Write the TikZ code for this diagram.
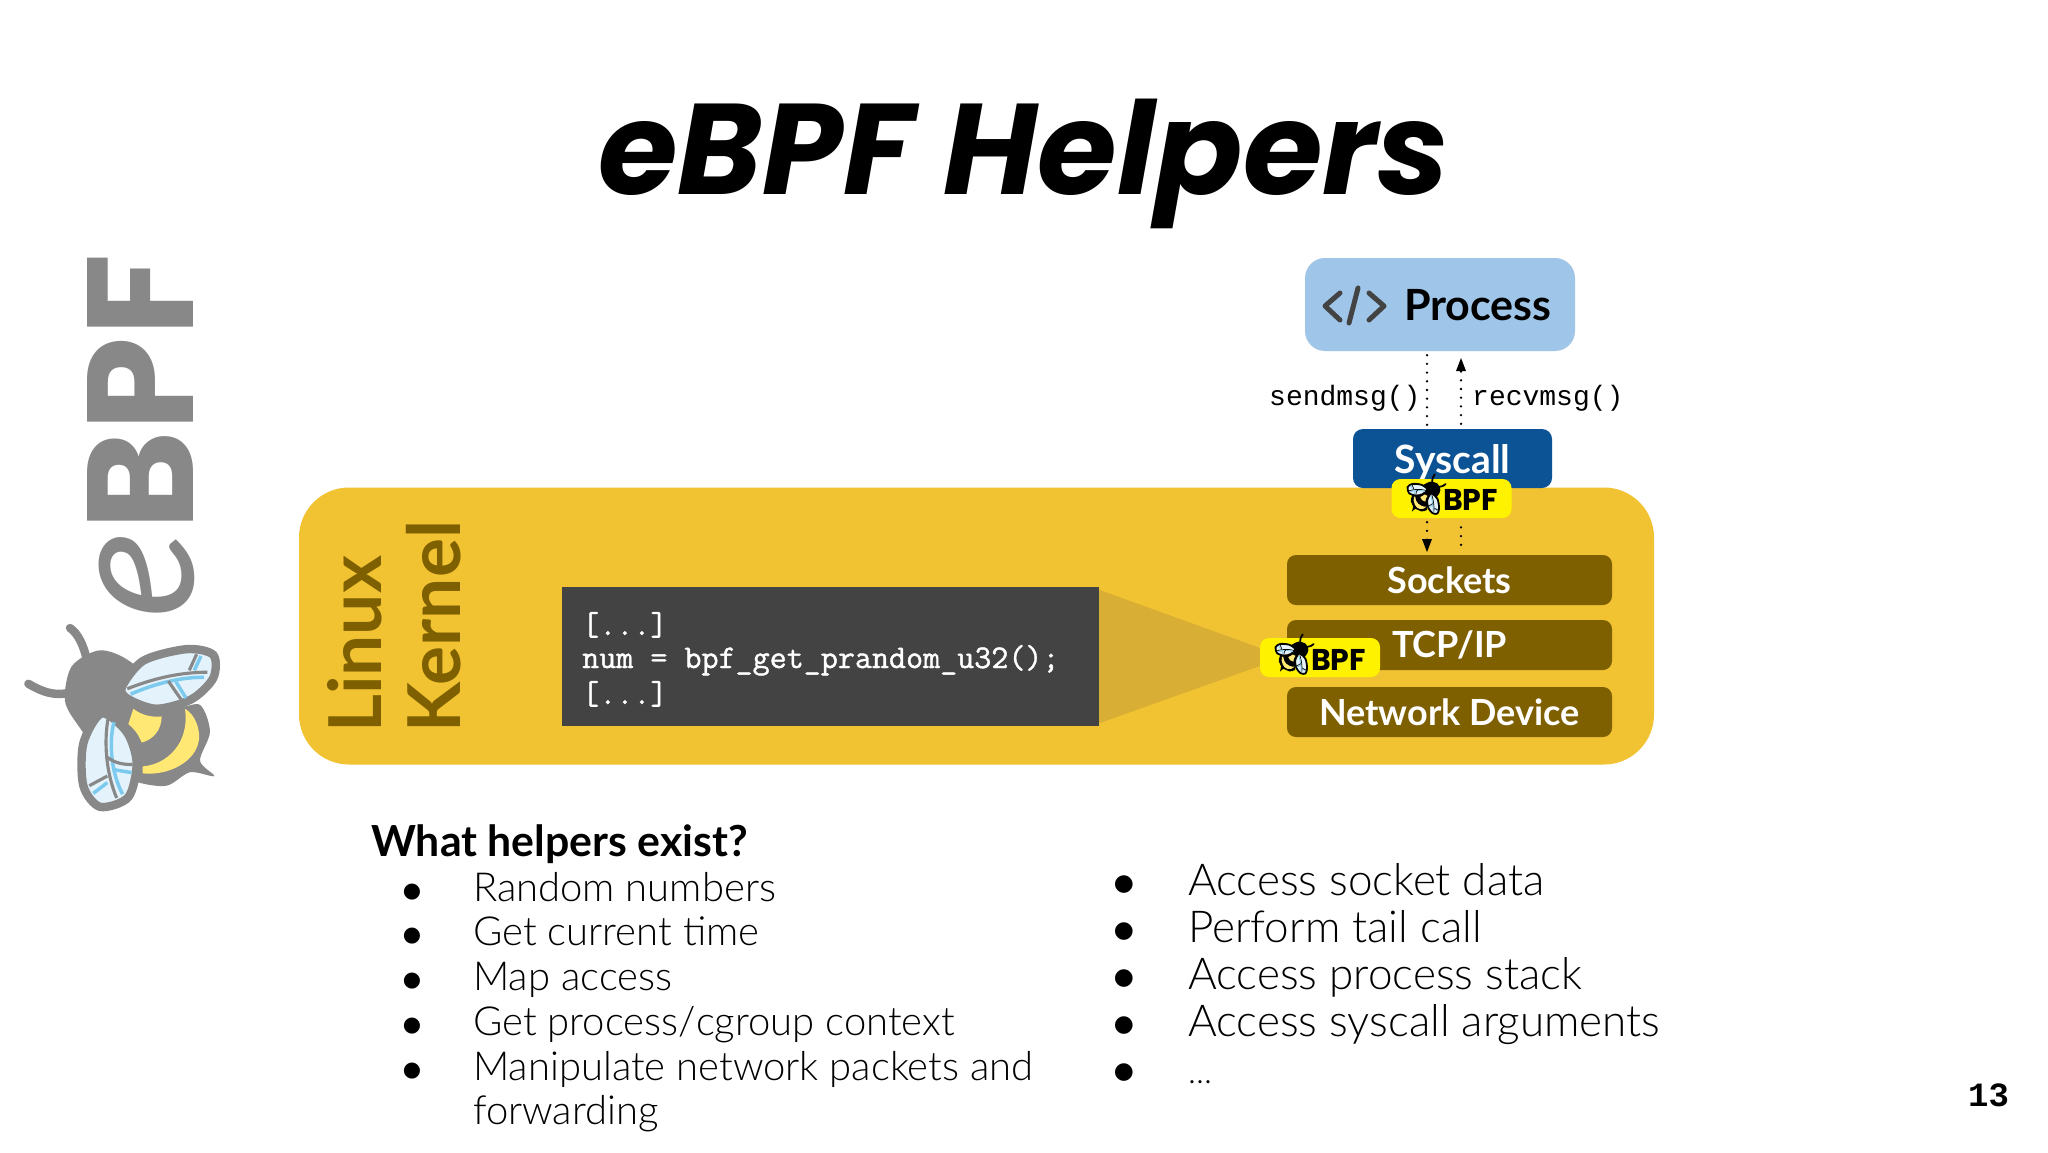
\documentclass[tikz,border=0pt]{standalone}
\usepackage{fontspec}
\setmainfont{Lato}
\newfontfamily\monof{Liberation Mono}
\newfontfamily\bulf{DejaVu Sans}
\newfontfamily\popf{Poppins}
\newfontfamily\lightf{Lato Light}
\newfontfamily\codef{Latin Modern Mono}[FakeBold=1.2]
\usetikzlibrary{arrows.meta,calc}
\newcommand{\fsz}[1]{\fontsize{#1pt}{#1pt}\selectfont}
\definecolor{gold}{HTML}{F1C232}
\definecolor{cone}{HTML}{D9AE35}
\definecolor{brownbox}{HTML}{7F6000}
\definecolor{procblue}{HTML}{9FC5E8}
\definecolor{sysblue}{HTML}{0B5394}
\definecolor{codegray}{HTML}{434343}
\definecolor{logogray}{HTML}{888888}
\definecolor{beeyellow}{HTML}{FFE873}
\definecolor{winglight}{HTML}{E3F2FB}
\definecolor{wingblue}{HTML}{7CCBEE}
% #1 outline colour, #2 line width factor
\newcommand{\beelogo}[2]{%
  \fill[#1] plot[smooth cycle] coordinates {(300,1098)(395,1130)(520,1240)(600,1240)(630,1310)(600,1385)(643,1425)(570,1415)(500,1450)(410,1440)(330,1400)(240,1300)(195,1230)(215,1140)};
  \draw[#1,line width=24*#2,line cap=round] (260,1120) .. controls (250,1085) and (235,1055) .. (210,1040);
  \draw[#1,line width=24*#2,line cap=round] (210,1208) .. controls (160,1218) and (125,1205) .. (85,1185);
  \fill[beeyellow] (400,1250) .. controls (430,1270) and (460,1272) .. (485,1270) .. controls (485,1305) and (460,1330) .. (425,1338) .. controls (415,1315) and (400,1300) .. (385,1290) -- cycle;
  \fill[beeyellow] (555,1250) .. controls (585,1265) and (600,1300) .. (597,1330) .. controls (590,1385) and (510,1425) .. (428,1418) -- (428,1400) .. controls (500,1395) and (570,1340) .. (555,1250) -- cycle;
  \filldraw[draw=#1,fill=winglight,line width=24*#2] plot[smooth cycle] coordinates {(365,1195)(430,1125)(560,1095)(640,1110)(640,1170)(575,1225)(470,1250)(385,1225)};
  \draw[wingblue,line width=10*#2] (392,1212) .. controls (450,1190) and (530,1168) .. (612,1168);
  \draw[wingblue,line width=10*#2] (603,1113) -- (583,1150);
  \draw[wingblue,line width=10*#2] (528,1180) -- (558,1222);
  \draw[#1,line width=9*#2] (382,1198) .. controls (450,1175) and (530,1155) .. (622,1155);
  \draw[#1,line width=9*#2] (590,1108) -- (568,1150);
  \draw[#1,line width=9*#2] (505,1178) -- (545,1228);
  \filldraw[draw=#1,fill=winglight,line width=24*#2] plot[smooth cycle] coordinates {(305,1262)(250,1340)(250,1450)(300,1505)(385,1480)(410,1390)(380,1310)};
  \draw[wingblue,line width=10*#2] (342,1285) .. controls (325,1340) and (335,1420) .. (368,1472);
  \draw[wingblue,line width=10*#2] (338,1408) -- (395,1416);
  \draw[wingblue,line width=10*#2] (280,1470) -- (322,1442);
  \draw[#1,line width=9*#2] (325,1272) .. controls (310,1340) and (320,1420) .. (350,1482);
  \draw[#1,line width=9*#2] (320,1375) .. controls (345,1392) and (370,1395) .. (398,1395);
  \draw[#1,line width=9*#2] (268,1450) -- (322,1425);
}
\tikzset{
  box/.style={inner sep=0pt,rounded corners=#1},
  layer/.style={box=9pt,fill=brownbox,minimum width=325pt,minimum height=50pt,text=white,font=\fsz{36}\bfseries},
  badge/.style={box=9pt,fill=yellow,minimum width=120pt,minimum height=39pt},
  bpftext/.style={inner sep=0pt,anchor=base west,font=\popf\fsz{30}\bfseries},
  monotext/.style={inner sep=0pt,anchor=base west,font=\monof\fsz{28}},
  codetext/.style={inner sep=0pt,anchor=base west,text=white,font=\codef\fsz{33.1}},
  call/.style={line width=2.6pt,line cap=round,dash pattern=on 0pt off 8.7pt,black},
  itemtext/.style={inner sep=0pt,anchor=base west,font=\lightf\fsz{#1}},
  bull/.style={inner sep=0pt,anchor=base,font=\bulf\fsz{#1}},
}
\begin{document}
\begin{tikzpicture}[x=1pt,y=-1pt]
\useasboundingbox (0,0) rectangle (2048,1152);
\fill[white] (0,0) rectangle (2048,1152);

% title
\node[inner sep=0pt,anchor=base] (title) at (1024,194) {\popf\fsz{129}\bfseries\itshape eBPF Helpers};

% side logo
\node[inner sep=0pt,anchor=base east,rotate=90,text=logogray] (ebpf) at (193,254) {{\itshape\fsz{184}e}{\popf\fsz{151}\bfseries BPF}};
\begin{scope}[shift={(0,228)},xscale=0.3333,yscale=0.3846]
  \beelogo{logogray}{0.35}
\end{scope}

% kernel
\node[box=50pt,fill=gold,minimum width=1355pt,minimum height=277pt] (kernel) at (976.5,626) {};
\node[inner sep=0pt,rotate=90,anchor=south west,align=left,text=brownbox,font=\fsz{73}\bfseries] (kname) at (461,733) {Linux\\[6pt]Kernel};

% cone and code
\node[inner sep=0pt,fill=codegray,minimum width=537pt,minimum height=139pt] (code) at (830.5,656.5) {};
\coordinate (conetip) at (1285,657);
\fill[cone] ($(code.north east)+(0,3)$) -- (conetip) -- ($(code.south east)+(0,-3)$) -- cycle;
\node[codetext] (c1) at (582,635) {[...]};
\node[codetext] (c2) at (582,668) {num = bpf\_get\_prandom\_u32();};
\node[codetext] (c3) at (582,704) {[...]};

% layers
\node[layer] (sockets) at (1449.5,580) {Sockets};
\node[layer,text depth=2pt] (tcp) at (1449.5,645) {TCP/IP};
\node[layer] (net) at (1449.5,712) {Network Device};

% process
\node[box=20pt,fill=procblue,minimum width=270pt,minimum height=93pt] (proc) at (1440,304.5) {};
\node[inner sep=0pt,anchor=base west,font=\fsz{43}\bfseries] (proctext) at (1404,320) {Process};
\draw[codegray,line width=5pt,line cap=round,line join=round] (1340,293) -- (1325,306) -- (1340,320);
\draw[codegray,line width=5pt,line cap=round] (1358,288) -- (1349,323);
\draw[codegray,line width=5pt,line cap=round,line join=round] (1369,293) -- (1384,306) -- (1369,320);

% syscall
\node[box=10pt,fill=sysblue,minimum width=199pt,minimum height=59pt,text=white,font=\fsz{39}\bfseries,text depth=0pt,text height=29pt] (sys) at (1452.5,458.5) {Syscall};

% dotted calls
\coordinate (lx) at (1427,0);
\coordinate (rx) at (1461,0);
\node[monotext] (send) at (1269,405) {sendmsg()};
\node[monotext] (recv) at (1472,405) {recvmsg()};
\draw[call] ($(proc.south -| lx)+(0,4)$) -- ($(sys.north -| lx)+(0,-4)$);
\draw[call] ($(sys.north -| rx)+(0,-5)$) -- ($(proc.south -| rx)+(0,20)$);
\fill (1461,358) -- (1466,371) -- (1456,371) -- cycle;

% badges
\node[badge] (b1) at (1451.5,498.5) {};
\node[bpftext] (b1t) at (1443,510) {BPF};
\node[badge] (b2) at (1320,657.5) {};
\node[bpftext] (b2t) at (1311,670) {BPF};
\begin{scope}[shift={(1425,497)},rotate=-95,xscale=0.07,yscale=0.081,shift={(-420,-1280)}]
  \beelogo{black}{0.075}
\end{scope}
\begin{scope}[shift={(1293,657)},rotate=-95,xscale=0.07,yscale=0.081,shift={(-420,-1280)}]
  \beelogo{black}{0.075}
\end{scope}

% below syscall
\draw[call] ($(b1.south -| lx)+(0,4)$) -- ($(sockets.north -| lx)+(0,-14)$);
\fill (1427,552) -- (1432,539) -- (1422,539) -- cycle;
\draw[call] ($(sockets.north -| rx)+(0,-10)$) -- ($(b1.south -| rx)+(0,4)$);

% lists
\node[inner sep=0pt,anchor=base west,font=\fsz{42.8}\bfseries] (head) at (371,856) {What helpers exist?};
\foreach \t/\y [count=\i] in {Random numbers/901,Get current time/945,Map access/990,Get process\slash cgroup context/1035,Manipulate network packets and/1080}{
  \node[bull=21] (lb\i) at (412,\y-4) {●};
  \node[itemtext=40] (l\i) at (473,\y) {\t};
}
\node[itemtext=40] (l6) at (473,1124) {forwarding};
\foreach \y [count=\i] in {895,942,989,1036,1083}{
  \node[bull=23] (rb\i) at (1124,\y-5) {●};
}
\node[itemtext=44] (r1) at (1188,895) {Access socket data};
\node[itemtext=44] (r2) at (1188,942) {Perform tail call};
\node[itemtext=44] (r3) at (1188,989) {Access process stack};
\node[itemtext=44] (r4) at (1188,1036) {Access syscall arguments};
\node[itemtext=34] (r5) at (1188,1083) {...};

% page number
\node[inner sep=0pt,anchor=base west,font=\monof\bfseries\fsz{34}] (page) at (1968,1106) {13};
\end{tikzpicture}
\end{document}
